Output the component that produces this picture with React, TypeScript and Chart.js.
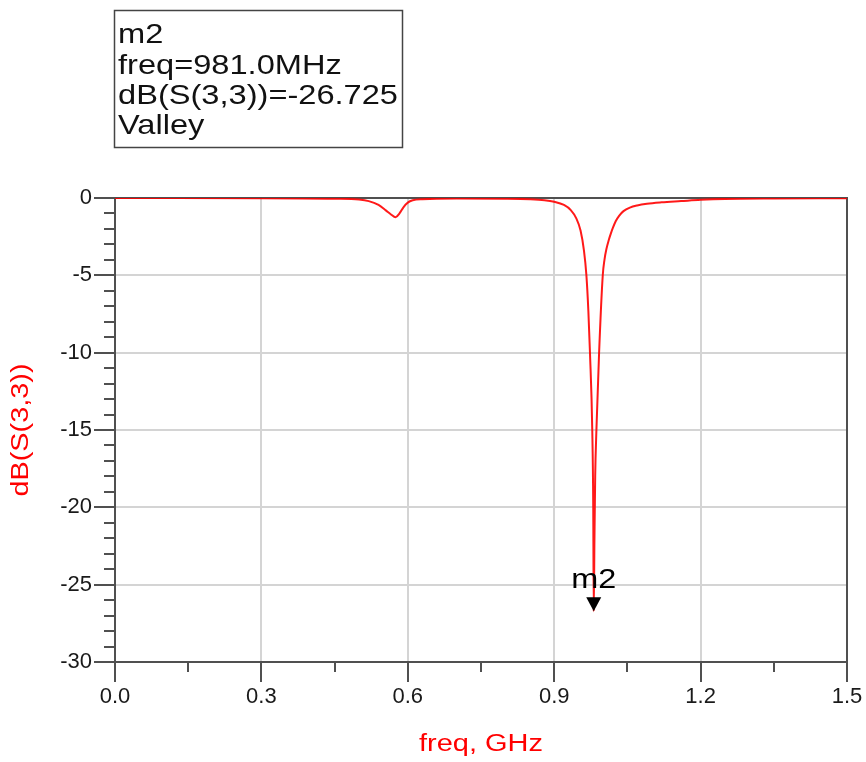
import React, { useEffect, useRef } from "react";
import { Chart, registerables } from "chart.js";

Chart.register(...registerables);

// ---- data ----
const freqGHz = [
  0, 0.3, 0.45, 0.5, 0.52, 0.54, 0.555, 0.565, 0.575, 0.583, 0.591, 0.6, 0.61, 0.63, 0.7,
  0.8, 0.85, 0.88, 0.9, 0.92, 0.934, 0.945, 0.954, 0.961, 0.966, 0.97, 0.9733, 0.978, 0.98,
  0.981, 0.9825, 0.984, 0.9865, 0.992, 0.9995, 1.003, 1.007, 1.012, 1.016, 1.02, 1.026, 1.033,
  1.042, 1.055, 1.07, 1.09, 1.12, 1.16, 1.2, 1.25, 1.35, 1.5,
];
const dbS33 = [
  -0.005, -0.01, -0.05, -0.1, -0.2, -0.45, -0.8, -1.05, -1.25, -1.0, -0.6, -0.3, -0.15, -0.08, -0.04,
  -0.05, -0.08, -0.14, -0.24, -0.45, -0.78, -1.3, -2.1, -3.4, -5, -7.3, -10, -15, -20,
  -26.725, -22, -18, -15, -10, -5, -4.0, -3.3, -2.7, -2.3, -1.95, -1.5, -1.15,
  -0.85, -0.62, -0.48, -0.37, -0.28, -0.2, -0.12, -0.06, -0.03, -0.02,
];
const xTicks = [0, 0.3, 0.6, 0.9, 1.2, 1.5];
const yTicks = [0, -5, -10, -15, -20, -25, -30];
const xMinorTicks = [0.15, 0.45, 0.75, 1.05, 1.35];
const yMinorTicks = [
  -1, -2, -3, -4, -6, -7, -8, -9, -11, -12, -13, -14, -16, -17, -18, -19, -21, -22, -23, -24,
  -26, -27, -28, -29,
];
const markerName = "m2";
const markerFreq = 0.981;
const markerDb = -26.725;
const markerLines = ["m2", "freq=981.0MHz", "dB(S(3,3))=-26.725", "Valley"];
const xTitle = "freq, GHz";
const yTitle = "dB(S(3,3))";

const FONT = '"Liberation Sans", Arial, sans-serif';
const AXIS = "#505050";

function stretched(ctx: CanvasRenderingContext2D, text: string, x: number, y: number, sx: number, align: CanvasTextAlign) {
  ctx.save();
  ctx.translate(x, y);
  ctx.scale(sx, 1);
  ctx.textAlign = align;
  ctx.fillText(text, 0, 0);
  ctx.restore();
}

const adsPlugin = {
  id: "adsPlugin",
  beforeDatasetsDraw(chart: any) {
    const ctx = chart.ctx as CanvasRenderingContext2D;
    const a = chart.chartArea;
    const xs = chart.scales.x;
    const ys = chart.scales.y;
    ctx.save();
    ctx.strokeStyle = AXIS;
    ctx.lineWidth = 2;
    ctx.beginPath();
    ctx.moveTo(a.left, a.top);
    ctx.lineTo(a.right, a.top);
    ctx.lineTo(a.right, a.bottom);
    ctx.stroke();
    ctx.beginPath();
    for (const v of yMinorTicks) {
      const y = Math.round(ys.getPixelForValue(v));
      ctx.moveTo(a.left - 11, y);
      ctx.lineTo(a.left, y);
    }
    for (const v of xMinorTicks) {
      const x = Math.round(xs.getPixelForValue(v));
      ctx.moveTo(x, a.bottom);
      ctx.lineTo(x, a.bottom + 10);
    }
    ctx.stroke();
    ctx.restore();
  },
  afterDatasetsDraw(chart: any) {
    const ctx = chart.ctx as CanvasRenderingContext2D;
    const xs = chart.scales.x;
    const ys = chart.scales.y;
    const px = xs.getPixelForValue(markerFreq);
    const py = ys.getPixelForValue(markerDb);
    ctx.save();
    ctx.fillStyle = "#000";
    ctx.beginPath();
    ctx.moveTo(px, py);
    ctx.lineTo(px - 7.5, py - 14);
    ctx.lineTo(px + 7.5, py - 14);
    ctx.closePath();
    ctx.fill();
    ctx.font = "27px " + FONT;
    ctx.textBaseline = "alphabetic";
    const w = ctx.measureText(markerName).width;
    stretched(ctx, markerName, px, py - 23, 45 / w, "center");
    ctx.restore();
  },
  afterDraw(chart: any) {
    const ctx = chart.ctx as CanvasRenderingContext2D;
    const a = chart.chartArea;
    ctx.save();
    ctx.strokeStyle = "#444";
    ctx.lineWidth = 1.5;
    ctx.strokeRect(a.left - 0.5, 10.5, 288, 137);
    ctx.fillStyle = "#111";
    ctx.font = "28px " + FONT;
    ctx.textBaseline = "alphabetic";
    const w = ctx.measureText(markerLines[2]).width;
    const sx = 280 / w;
    const baselines = [43, 74, 104, 134];
    markerLines.forEach((t, i) => stretched(ctx, t, a.left + 3, baselines[i], sx, "left"));
    ctx.fillStyle = "#ff0000";
    ctx.font = "23px " + FONT;
    ctx.textBaseline = "middle";
    const wx = ctx.measureText(xTitle).width;
    stretched(ctx, xTitle, (a.left + a.right) / 2, 745, 124 / wx, "center");
    const wy = ctx.measureText(yTitle).width;
    ctx.save();
    ctx.translate(22, (a.top + a.bottom) / 2);
    ctx.rotate(-Math.PI / 2);
    stretched(ctx, yTitle, 0, 0, 133 / wy, "center");
    ctx.restore();
    ctx.restore();
  },
};

export default function App() {
  const ref = useRef<HTMLCanvasElement | null>(null);
  useEffect(() => {
    if (!ref.current) return;
    const points = freqGHz.map((f, i) => ({ x: f, y: dbS33[i] }));
    const chart = new Chart(ref.current, {
      type: "line",
      data: {
        datasets: [
          {
            data: points,
            borderColor: "rgba(255,0,0,0.9)",
            borderWidth: 2,
            pointRadius: 0,
            cubicInterpolationMode: "monotone",
            fill: false,
          },
        ],
      },
      options: {
        responsive: false,
        animation: false,
        devicePixelRatio: 1,
        layout: { padding: { top: 198, right: 19, left: 0, bottom: 0 } },
        plugins: { legend: { display: false }, tooltip: { enabled: false } },
        scales: {
          x: {
            type: "linear",
            min: 0,
            max: 1.5,
            afterBuildTicks: (s: any) => {
              s.ticks = xTicks.map((v) => ({ value: v }));
            },
            afterFit: (s: any) => {
              s.height = 100;
            },
            ticks: {
              callback: (v: any) => Number(v).toFixed(1),
              font: { size: 22, family: FONT },
              color: "#1a1a1a",
              padding: 2,
              maxRotation: 0,
              autoSkip: false,
            },
            grid: {
              color: "#d4d4d4",
              lineWidth: 2,
              tickLength: 20,
              tickColor: AXIS,
              tickWidth: 2,
            },
            border: { color: AXIS, width: 2 },
          },
          y: {
            type: "linear",
            min: -30,
            max: 0,
            afterBuildTicks: (s: any) => {
              s.ticks = yTicks.map((v) => ({ value: v }));
            },
            afterFit: (s: any) => {
              s.width = 115;
            },
            ticks: {
              font: { size: 22, family: FONT },
              color: "#1a1a1a",
              padding: 2,
              autoSkip: false,
            },
            grid: {
              color: "#d4d4d4",
              lineWidth: 2,
              tickLength: 21,
              tickColor: AXIS,
              tickWidth: 2,
            },
            border: { color: AXIS, width: 2 },
          },
        },
      },
      plugins: [adsPlugin],
    });
    return () => chart.destroy();
  }, []);
  return (
    <div style={{ position: "fixed", left: 0, top: 0, width: 866, height: 762, background: "#fff" }}>
      <canvas ref={ref} width={866} height={762} style={{ width: 866, height: 762, display: "block" }} />
    </div>
  );
}
